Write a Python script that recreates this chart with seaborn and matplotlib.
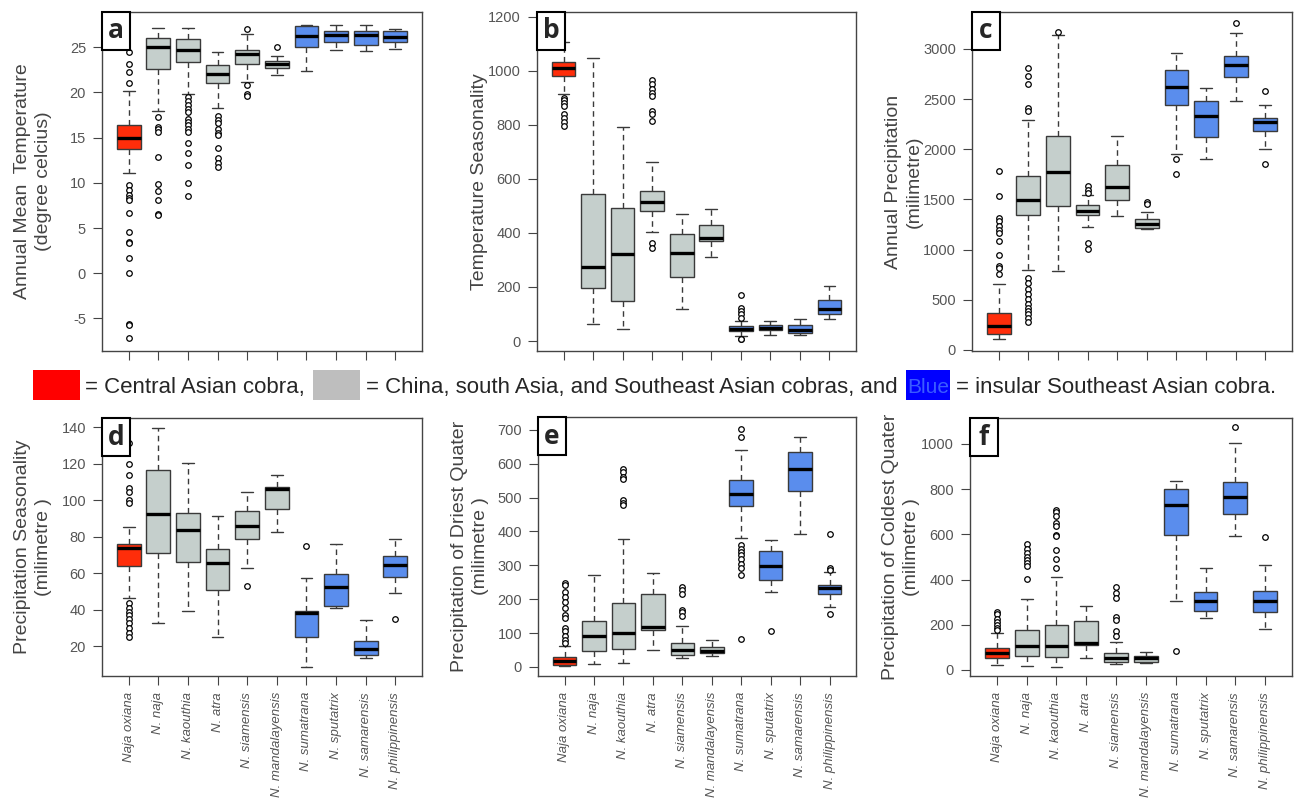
import numpy as np
import pandas as pd
import matplotlib
matplotlib.use("Agg")
import matplotlib.pyplot as plt
from matplotlib.patches import Rectangle
import seaborn as sns

# species in plotting order
species = ["Naja oxiana", "N. naja", "N. kaouthia", "N. atra", "N. siamensis",
           "N. mandalayensis", "N. sumatrana", "N. sputatrix", "N. samarensis",
           "N. philippinensis"]
groups = ["central"] + ["mainland"] * 5 + ["insular"] * 4
group_colors = {"central": "#ff2d0a", "mainland": "#c5cfcc", "insular": "#5a8ded"}

# box stats: [lower whisker, Q1, median, Q3, upper whisker]
a_stats = [[11.1, 13.75, 15.0, 16.45, 20.2], [18.0, 22.6, 25.07, 26.0, 27.1],
           [19.8, 23.4, 24.7, 25.9, 27.1], [18.3, 21.0, 22.0, 23.0, 24.45],
           [21.2, 23.2, 24.2, 24.7, 26.5], [21.9, 22.7, 23.17, 23.46, 24.0],
           [22.4, 25.07, 26.2, 27.3, 27.45], [24.7, 25.55, 26.35, 26.8, 27.45],
           [24.56, 25.26, 26.35, 26.76, 27.45], [24.8, 25.6, 26.17, 26.76, 27.0]]
a_out = [[24.45, 23.2, 22.3, 21.0, 9.8, 9.2, 8.7, 8.3, 8.1, 6.7, 4.6, 3.45, 3.3, 1.65, 0.0, -5.6, -5.7, -7.2],
         [17.3, 16.2, 16.0, 15.65, 12.9, 9.86, 9.13, 8.14, 6.5, 6.4],
         [19.5, 19.1, 18.6, 18.2, 17.85, 17.1, 16.75, 16.4, 16.0, 15.65, 14.4, 13.3, 12.0, 10.0, 8.6],
         [17.4, 17.0, 16.6, 16.0, 15.55, 15.3, 13.9, 12.7, 12.2, 11.7],
         [27.0, 20.8, 19.8, 19.6], [25.0], [], [], [], []]

b_stats = [[913, 980, 1009, 1033, 1106], [62, 197, 274, 543, 1046],
           [46, 148, 321, 493, 792], [403, 483, 515, 557, 662],
           [120, 237, 324, 395, 469], [311, 372, 380, 429, 487],
           [18, 37, 46, 55, 74], [21, 39, 49, 58, 74],
           [21, 31, 39, 59, 80], [80, 101, 117, 150, 204]]
b_out = [[900, 894, 882, 870, 839, 826, 810, 795], [], [],
         [968, 950, 934, 919, 906, 851, 839, 814, 364, 345], [], [],
         [169, 123, 111, 99, 86, 9, 6], [], [], []]

c_stats = [[113, 156, 239, 371, 653], [802, 1349, 1492, 1737, 2287],
           [786, 1439, 1774, 2128, 3139], [1227, 1349, 1389, 1442, 1548],
           [1339, 1492, 1624, 1846, 2128], [1205, 1217, 1260, 1306, 1376],
           [1953, 2443, 2619, 2791, 2957], [1906, 2118, 2334, 2486, 2609],
           [2483, 2725, 2841, 2930, 3156], [2002, 2178, 2267, 2311, 2437]]
c_out = [[1780, 1531, 1316, 1283, 1233, 1200, 1167, 1084, 951, 835, 819, 762],
         [2808, 2731, 2649, 2410, 2377, 719, 670, 603, 554, 504, 454, 421, 388, 355, 322, 278],
         [3172], [1631, 1598, 1565, 1067, 1008], [], [1472, 1459],
         [1903, 1757], [], [3255], [2582, 1856]]

d_stats = [[46.2, 64.1, 73.6, 75.8, 85.5], [32.4, 70.8, 92.2, 116.6, 139.4],
           [39.2, 65.9, 83.6, 93.2, 120.2], [25.1, 50.7, 65.4, 73.0, 91.5],
           [63.0, 78.5, 85.8, 94.1, 104.3], [82.4, 95.2, 106.2, 107.1, 113.8],
           [8.7, 25.1, 37.9, 39.2, 57.5], [40.7, 42.1, 52.6, 59.3, 75.8],
           [13.2, 15.1, 18.2, 22.9, 34.3], [48.9, 57.7, 64.4, 69.4, 78.7]]
d_out = [[131.2, 119.9, 113.5, 106.5, 104.7, 100.1, 98.3, 43.4, 40.7, 38.8, 37.0, 34.6, 32.4, 29.7, 27.3, 24.8],
         [], [], [], [53.1], [], [75.1], [], [], [34.6]]

e_stats = [[3.9, 5.9, 16.6, 29.4, 62.7], [9.8, 48, 92, 136, 271],
           [11.7, 53, 100, 188, 377], [51, 110, 119, 215, 276],
           [26.4, 36.2, 49, 70.5, 122], [31.3, 41.1, 48, 58.7, 80.3],
           [381, 475, 511, 553, 641], [220, 256.5, 297.6, 342, 374],
           [391.6, 519, 584, 636, 680], [176, 215, 234, 241.8, 281]]
e_out = [[248.7, 241.8, 222, 207.6, 192.9, 173.3, 153.7, 143.9, 114.5, 104.8, 90, 78.3, 70.5],
         [], [584, 575, 562, 555, 493, 484, 477], [],
         [237, 227, 215, 168, 160.6, 148.8], [],
         [704, 679, 359, 349.5, 339.7, 330, 320, 305, 291, 271, 82],
         [104.8], [], [393.6, 292.7, 286, 155.7]]

f_stats = [[22.2, 51.7, 73.9, 96, 162.5], [19.2, 63.5, 106.3, 177, 314.6],
           [14.8, 56, 106, 199, 410.6], [54.6, 110.8, 121, 217, 283.6],
           [26.6, 36.9, 51.7, 73.9, 122.6], [32.5, 36.9, 51.7, 62, 81],
           [302.8, 598, 731, 800.5, 834.5], [229, 261, 302.8, 344, 453],
           [591, 690, 765, 830, 1004], [181.7, 258.5, 302.8, 350, 465]]
f_out = [[258.5, 248, 224.5, 214, 199.4, 184.6, 177],
         [558, 534.7, 517, 497.7, 487, 472.6, 462, 403],
         [706, 697, 682, 650, 635, 598, 591, 532, 492, 453], [],
         [369, 339.7, 317.6, 236, 221.5, 170, 150.7], [],
         [84.2], [], [1074], [588]]

ylabels = ["Annual Mean  Temperature\n(degree celcius)", "Temperature Seasonality",
           "Annual Precipitation\n(milimetre)", "Precipitation Seasonality\n(milimetre )",
           "Precipitation of Driest Quater\n(milimetre )", "Precipitation of Coldest Quater\n(milimetre )"]
letters = ["a", "b", "c", "d", "e", "f"]

sns.set_style("ticks")
plt.rcParams['font.family'] = ['Liberation Sans', 'DejaVu Sans']
plt.rcParams['axes.unicode_minus'] = False

W, H = 1298, 805
fig = plt.figure(figsize=(W / 100, H / 100), dpi=100)

panels = [
    (a_stats, a_out, (-8.6, 28.9), np.arange(-5, 26, 5), (102, 12, 422, 351), False),
    (b_stats, b_out, (-37, 1218), np.arange(0, 1201, 200), (537, 12, 856, 351), False),
    (c_stats, c_out, (-10, 3368), np.arange(0, 3001, 500), (972, 12, 1292, 351), False),
    (d_stats, d_out, (3.6, 145), np.arange(20, 141, 20), (102, 418, 422, 676), True),
    (e_stats, e_out, (-27, 738), np.arange(0, 701, 100), (538, 417, 856, 676), True),
    (f_stats, f_out, (-27, 1115), np.arange(0, 1001, 200), (970, 418, 1292, 676), True),
]

palette = {sp: group_colors[g] for sp, g in zip(species, groups)}
edge = "#3a3a3a"

for i, (stats, outs, ylim, yticks, (l, t, r, b), show_lab) in enumerate(panels):
    ax = fig.add_axes([l / W, 1 - b / H, (r - l) / W, (b - t) / H])
    box_df = pd.DataFrame([(sp, v) for sp, st in zip(species, stats) for v in st],
                          columns=["species", "value"])
    out_df = pd.DataFrame([(sp, v) for sp, o in zip(species, outs) for v in o],
                          columns=["species", "value"])

    sns.boxplot(data=box_df, x="species", y="value", hue="species", order=species,
                hue_order=species, palette=palette, legend=False, whis=(0, 100),
                width=0.8, saturation=1, linewidth=1, linecolor=edge, showfliers=False,
                whiskerprops=dict(color=edge, linewidth=1, linestyle=(0, (4, 3))),
                capprops=dict(color=edge, linewidth=1),
                medianprops=dict(color="black", linewidth=2.4),
                ax=ax)
    sns.stripplot(data=out_df, x="species", y="value", order=species, jitter=False,
                  color="white", edgecolor="black", linewidth=0.9, size=4,
                  zorder=3, ax=ax)

    ax.set_xlim(-0.9, 9.9)
    ax.set_ylim(*ylim)
    ax.set_yticks(yticks)
    ax.set_xticks(range(len(species)))
    if show_lab:
        ax.set_xticklabels(species, rotation=90, style="italic", fontsize=9.5, color="#555555")
    else:
        ax.set_xticklabels([])
    ax.set_xlabel("")
    ax.tick_params(axis="both", direction="out", length=6.5, width=0.8, color="#444444",
                   labelcolor="#555555", pad=5)
    ax.tick_params(axis="y", labelsize=10.5)
    for s in ax.spines.values():
        s.set_color("#444444")
        s.set_linewidth(1)
    ax.set_ylabel(ylabels[i], fontsize=14, color="#444444", linespacing=1.3)
    ax.yaxis.set_label_coords(-0.155, 0.5)

    # panel letter box
    bw, bh = 28 / (r - l), 38 / (b - t)
    ax.add_patch(Rectangle((0, 1 - bh), bw, bh, transform=ax.transAxes, fc="white",
                           ec="black", lw=1.5, zorder=10, clip_on=False))
    ax.text(bw / 2, 1 - bh / 2, letters[i], transform=ax.transAxes, ha="center",
            va="center", fontsize=19, fontweight="bold", family="Open Sans", zorder=11)

# colour key between the rows
key_fs = 16
for x0, x1, col in [(33, 80, "#ff0000"), (313, 360, "#bebebe"), (906, 950, "#0000ff")]:
    fig.add_artist(Rectangle((x0 / W, 1 - 400 / H), (x1 - x0) / W, 30 / H,
                             transform=fig.transFigure, fc=col, ec="none"))
fig.text(85 / W, 1 - 393 / H, "= Central Asian cobra,", fontsize=key_fs)
fig.text(366 / W, 1 - 393 / H, "= China, south Asia, and Southeast Asian cobras, and",
         fontsize=key_fs)
fig.text(928 / W, 1 - 393 / H, "Blue", fontsize=key_fs - 1, color="#3a5cff", ha="center")
fig.text(956 / W, 1 - 393 / H, "= insular Southeast Asian cobra.", fontsize=key_fs)

fig.savefig("out.png", dpi=100)
